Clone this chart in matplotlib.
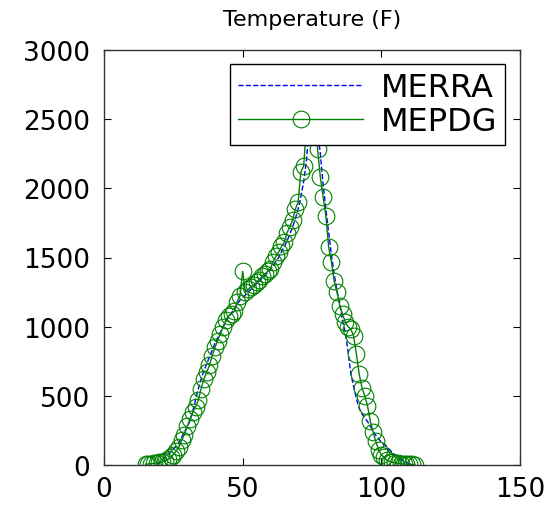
import numpy as np
import matplotlib
matplotlib.use('Agg')
import matplotlib.pyplot as plt

# temperature bins (F)
temp_mepdg = list(range(15, 113))
mepdg = [5, 8, 10, 12, 15, 20, 25, 30, 40, 55,
         75, 100, 130, 180, 220, 280, 330, 380, 420, 470,
         550, 620, 670, 720, 790, 850, 900, 950, 1000, 1050,
         1080, 1095, 1110, 1180, 1220, 1400, 1250, 1270, 1290, 1300,
         1320, 1340, 1365, 1380, 1400, 1420, 1470, 1510, 1540, 1580,
         1610, 1680, 1720, 1770, 1850, 1900, 2120, 2160, 2450, 2700,
         2800, 2650, 2285, 2082, 1938, 1800, 1576, 1468, 1330, 1251,
         1150, 1090, 1034, 1000, 983, 933, 803, 660, 560, 500,
         430, 320, 240, 170, 110, 75, 55, 35, 25, 20,
         15, 12, 10, 8, 6, 5, 4, 3]

temp_merra = list(range(19, 113))
merra = [2, 15, 35, 55, 75, 95, 115, 135, 160, 200,
         240, 275, 320, 390, 470, 550, 620, 680, 730, 780,
         830, 880, 920, 960, 1000, 1040, 1070, 1100, 1130, 1160,
         1190, 1210, 1230, 1250, 1270, 1290, 1310, 1330, 1350, 1370,
         1390, 1410, 1440, 1470, 1500, 1540, 1580, 1620, 1670, 1720,
         1780, 1850, 1940, 2050, 2200, 2450, 2650, 2600, 2420, 2250,
         2030, 1850, 1680, 1520, 1380, 1260, 1170, 1040, 960, 820,
         660, 570, 480, 410, 370, 340, 315, 280, 245, 215,
         190, 165, 145, 130, 110, 90, 72, 55, 40, 28,
         18, 10, 4, 0]

xticks = [0, 50, 100, 150]
yticks = [0, 500, 1000, 1500, 2000, 2500, 3000]

plt.rcParams['font.family'] = ['DejaVu Sans']

fig = plt.figure(figsize=(5.5, 5.1), dpi=100)
ax = fig.add_axes([104/550, 44/510, 416/550, 415/510])

ax.plot(temp_merra, merra, '--', color='#0000ff', lw=1.0, label='MERRA')
ax.plot(temp_mepdg, mepdg, '-o', color='#008000', lw=1.0, ms=12,
        mfc='none', mew=0.8, label='MEPDG')

ax.set_xlim(0, 150)
ax.set_ylim(0, 3000)
ax.set_xticks(xticks)
ax.set_yticks(yticks)
ax.tick_params(direction='in', length=5, top=True, right=True,
               labelsize=19, width=0.8)
ax.tick_params(axis='x', pad=8)
ax.tick_params(axis='y', pad=10)
for s in ax.spines.values():
    s.set_linewidth(1.0)
    s.set_color('#333333')

ax.set_title('Temperature (F)', fontsize=16, pad=18)

leg = ax.legend(loc='upper right', bbox_to_anchor=(0.964, 0.966),
                borderaxespad=0, fontsize=23, handlelength=3.9,
                handletextpad=0.55, fancybox=False, framealpha=1,
                edgecolor='black', borderpad=0.25, labelspacing=0.1)
leg.get_frame().set_linewidth(1.0)

fig.savefig('out.png', dpi=100)
